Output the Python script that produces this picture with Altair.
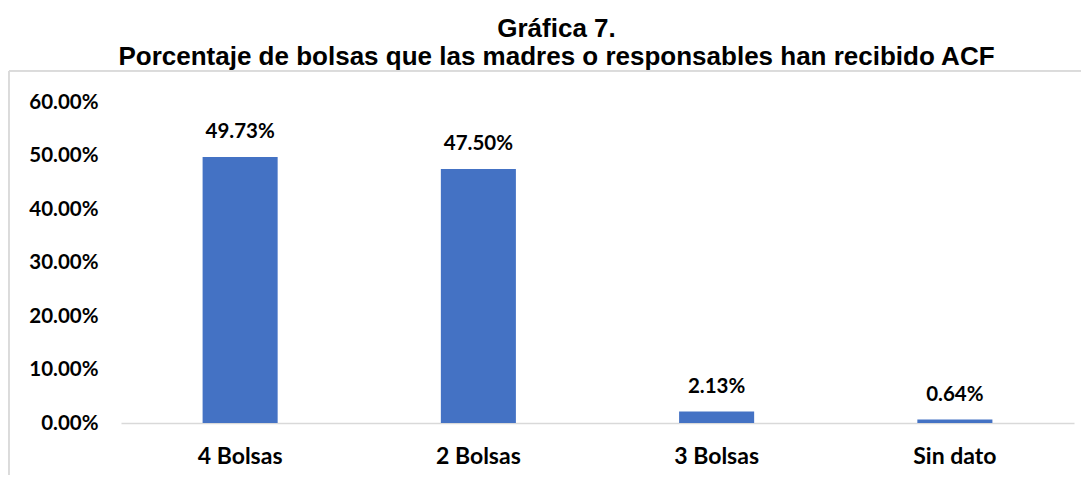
import altair as alt
import pandas as pd

categories = ["4 Bolsas", "2 Bolsas", "3 Bolsas", "Sin dato"]
values = [49.73, 47.50, 2.13, 0.64]
labels = ["49.73%", "47.50%", "2.13%", "0.64%"]

df = pd.DataFrame({"cat": categories, "val": values, "lab": labels})

W, H = 953, 321

base = alt.Chart(df)

x_enc = alt.X("cat:N", sort=categories, title=None,
              scale=alt.Scale(paddingInner=0.685, paddingOuter=0.3425),
              axis=alt.Axis(labelAngle=0, labelFont="Lato", labelFontWeight="bold",
                            labelFontSize=23, labelColor="#000000", labelPadding=22,
                            ticks=False, domainColor="#d9d9d9", domainWidth=1.5,
                            grid=False))
y_enc = alt.Y("val:Q", title=None,
              scale=alt.Scale(domain=[0, 60], nice=False),
              axis=alt.Axis(values=[0, 10, 20, 30, 40, 50, 60],
                            labelExpr="format(datum.value, '.2f') + '%'",
                            labelFont="Lato", labelFontWeight="bold", labelFontSize=20.5,
                            labelColor="#000000", labelPadding=23,
                            ticks=False, domain=False, grid=False))

bars = base.mark_bar(color="#4472C4").encode(x=x_enc, y=y_enc)

text = base.mark_text(font="Lato", fontWeight="bold", fontSize=20.5, color="#000000",
                      baseline="alphabetic", dy=-19).encode(
    x=alt.X("cat:N", sort=categories), y="val:Q", text="lab:N")

border_left = base.mark_rule(color="#d9d9d9", strokeWidth=1).encode(
    x=alt.value(-112), y=alt.value(-31), y2=alt.value(500))
border_top = base.mark_rule(color="#d9d9d9", strokeWidth=1).encode(
    x=alt.value(-112), x2=alt.value(1100), y=alt.value(-31))

chart = alt.layer(border_left, border_top, bars, text).properties(
    width=W, height=H,
    autosize=alt.AutoSizeParams(type="none"),
    padding={"left": 113, "top": 94, "right": 7, "bottom": 52},
    title=alt.TitleParams(
        text=["Gráfica 7.", "Porcentaje de bolsas que las madres o responsables han recibido ACF"],
        font="Liberation Sans", fontSize=26, fontWeight="bold", color="#000000",
        anchor="middle", dx=-41, lineHeight=28, offset=1),
).configure_view(stroke=None)

chart.save("out.html", embed_options={"renderer": "svg", "actions": False})
